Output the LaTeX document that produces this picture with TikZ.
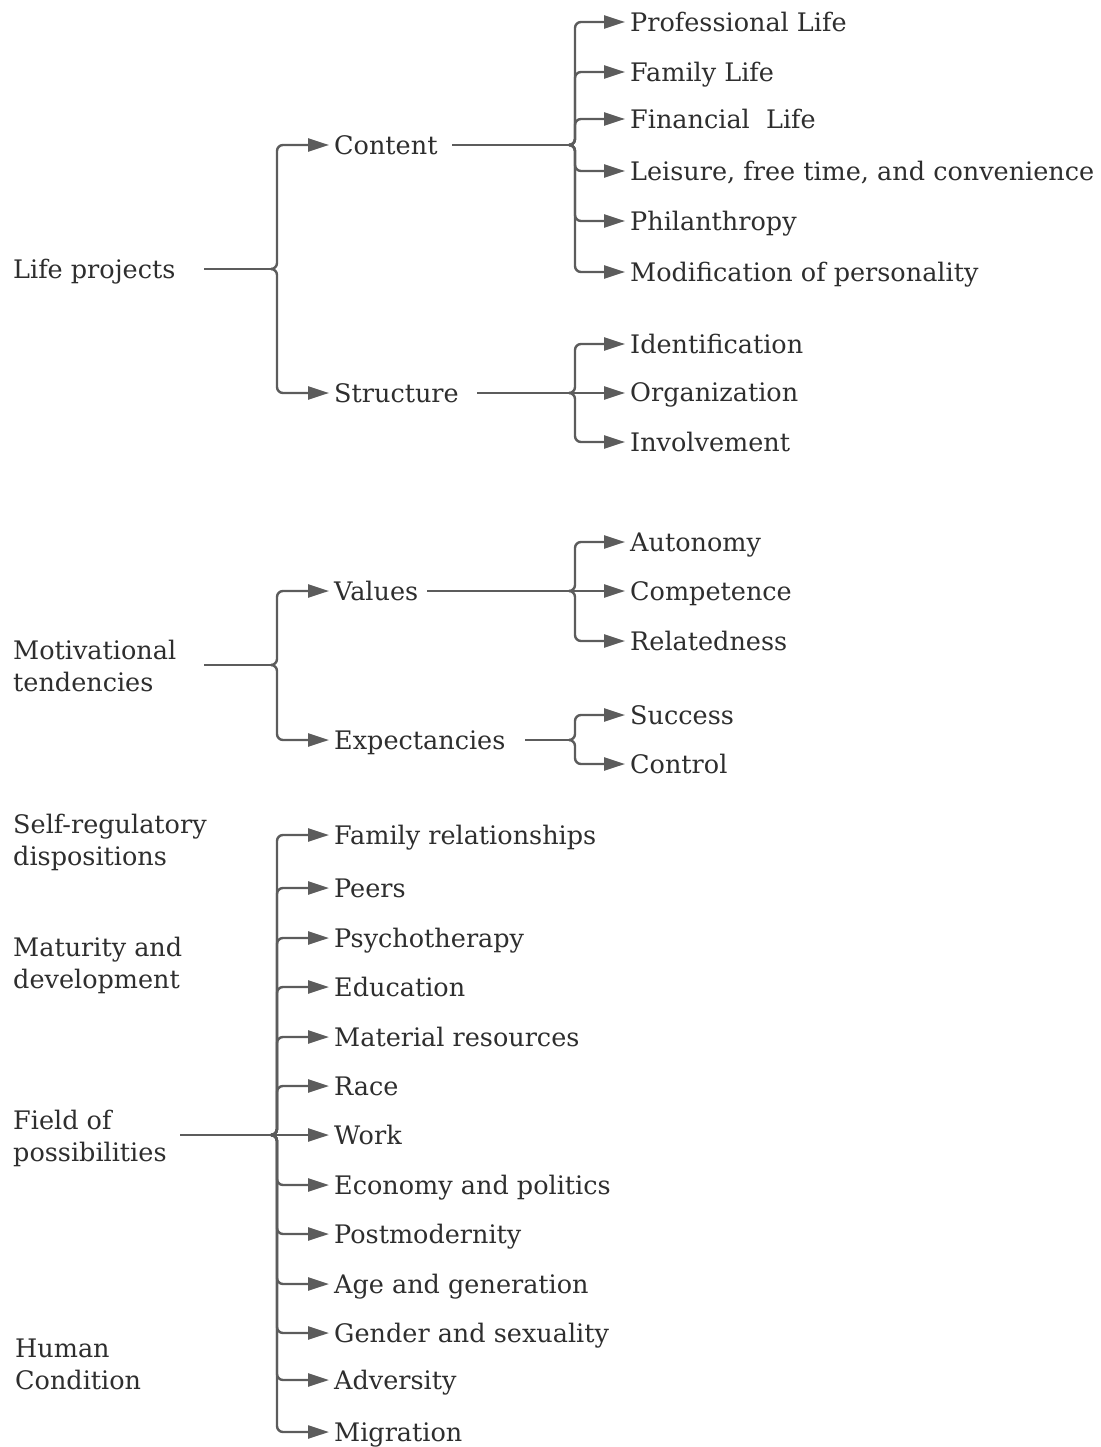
\documentclass[tikz,border=0pt]{standalone}
\usepackage{fontspec}
\setmainfont{DejaVu Serif}
\usetikzlibrary{arrows.meta}
\definecolor{lc}{HTML}{5C5C5C}
\definecolor{tc}{HTML}{2E2E2E}
\begin{document}
\begin{tikzpicture}[x=1pt,y=-1pt,
  lbl/.style={anchor=west,inner xsep=5pt,inner ysep=0pt,text height=22pt,text depth=3pt,text=tc,font=\fontsize{25.5}{32}\selectfont},
  root/.style={anchor=west,inner xsep=0pt,inner ysep=0pt,text=tc,font=\fontsize{25.5}{32}\selectfont,align=left},
  conn/.style={draw=lc,line width=2.4pt,rounded corners=6pt,-{Triangle[length=21pt,width=13pt]}},
  stem/.style={draw=lc,line width=2.4pt}]
\useasboundingbox (0,0) rectangle (1100,1447);

% ---------- roots ----------
\node[root] (lp) at (13,272) {Life projects};
\node[root] (mt) at (13,666) {Motivational\\tendencies};
\node[root] (sr) at (13,842) {Self-regulatory\\dispositions};
\node[root] (md) at (13,965) {Maturity and\\development};
\node[root] (fp) at (13,1138) {Field of\\possibilities};
\node[root] (hc) at (15,1364) {Human\\Condition};

% ---------- level 1 ----------
\node[lbl] (content) at (329,145) {Content};
\node[lbl] (structure) at (329,393) {Structure};
\node[lbl] (values) at (329,591) {Values};
\node[lbl] (expect) at (329,740) {Expectancies};

% ---------- level 2 ----------
\foreach \n/\y/\t in {c1/22/Professional Life, c2/72/Family Life, c3/119/{Financial\ \ Life}, c4/171/{Leisure, free time, and convenience}, c5/221/Philanthropy, c6/272/Modification of personality,
  s1/344/Identification, s2/392/Organization, s3/442/Involvement,
  v1/542/Autonomy, v2/591/Competence, v3/641/Relatedness,
  e1/715/Success, e2/764/Control}
  \node[lbl] (\n) at (625,\y) {\t};

\foreach \n/\y/\t in {f1/835/Family relationships, f2/888/Peers, f3/938/Psychotherapy, f4/987/Education, f5/1037/Material resources, f6/1086/Race, f7/1135/Work, f8/1185/Economy and politics, f9/1234/Postmodernity, f10/1284/Age and generation, f11/1333/Gender and sexuality, f12/1380/Adversity, f13/1432/Migration}
  \node[lbl] (\n) at (329,\y) {\t};

% ---------- junction coordinates ----------
\coordinate (lpS) at (204,269);  \coordinate (lpJ) at (272,269);
\coordinate (mtS) at (204,665);  \coordinate (mtJ) at (272,665);
\coordinate (fpS) at (180,1135); \coordinate (fpJ) at (272,1135);
\coordinate (coS) at (452,145);  \coordinate (coJ) at (570,145);
\coordinate (stS) at (477,393);  \coordinate (stJ) at (570,393);
\coordinate (vaS) at (427,591);  \coordinate (vaJ) at (570,591);
\coordinate (exS) at (525,740);  \coordinate (exJ) at (570,740);

\draw[stem] (lpS) -- (lpJ);
\draw[stem] (mtS) -- (mtJ);
\draw[stem] (fpS) -- (fpJ);
\draw[stem] (coS) -- (coJ);
\draw[stem] (stS) -- (stJ);
\draw[stem] (vaS) -- (vaJ);
\draw[stem] (exS) -- (exJ);

% ---------- branches ----------
\foreach \c in {content,structure} \draw[conn] (lpJ) -- ++(5,0) |- (\c.west);
\foreach \c in {values,expect} \draw[conn] (mtJ) -- ++(5,0) |- (\c.west);
\foreach \c in {c1,c2,c3,c4,c5,c6} \draw[conn] (coJ) -- ++(5,0) |- (\c.west);
\foreach \c in {s1,s3} \draw[conn] (stJ) -- ++(5,0) |- (\c.west);
\draw[conn] (stJ) -- (stJ -| s2.west);
\foreach \c in {v1,v3} \draw[conn] (vaJ) -- ++(5,0) |- (\c.west);
\draw[conn] (vaJ) -- (v2.west);
\foreach \c in {e1,e2} \draw[conn] (exJ) -- ++(5,0) |- (\c.west);
\foreach \c in {f1,f2,f3,f4,f5,f6,f8,f9,f10,f11,f12,f13} \draw[conn] (fpJ) -- ++(5,0) |- (\c.west);
\draw[conn] (fpJ) -- (f7.west);
\end{tikzpicture}
\end{document}
